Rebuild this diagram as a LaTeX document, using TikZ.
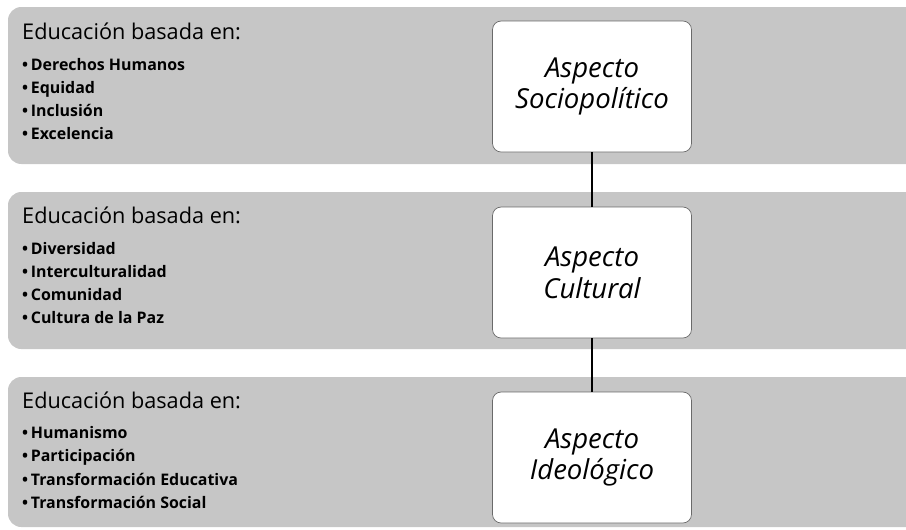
\documentclass[tikz,border=0pt]{standalone}
\usepackage{fontspec}
\setmainfont{Open Sans}
\usetikzlibrary{positioning}

\definecolor{bandgray}{HTML}{C6C6C6}
\definecolor{boxline}{HTML}{6A6A6A}

\begin{document}
\begin{tikzpicture}[x=0.3mm,y=-0.3mm,
  band/.style={fill=bandgray, rounded corners=4mm},
  aspecto/.style={draw=boxline, fill=white, line width=0.6pt, rounded corners=2.6mm,
    minimum width=59.7mm, minimum height=39.3mm, align=center,
    font=\fontsize{23.5}{27}\selectfont\itshape},
  head/.style={anchor=base west, inner sep=0pt, font=\fontsize{18.5}{20}\selectfont},
  punto/.style={anchor=base west, inner sep=0pt, font=\fontsize{13.6}{14}\selectfont\bfseries}]
  \clip (0,0) rectangle (906,529);

  % franjas grises
  \fill[band] (8,7) rectangle (940,164);
  \fill[band] (8,192) rectangle (940,349);
  \fill[band] (8,377) rectangle (940,527);

  % textos de la izquierda
  \node[head] (h1) at (22,39) {Educación basada en:};
  \foreach \t [count=\i] in {Derechos Humanos, Equidad, Inclusión, Excelencia}
    \node[punto] (a\i) at (22,{70+23*(\i-1)}) {•\,\t};

  \node[head] (h2) at (22,223) {Educación basada en:};
  \foreach \t [count=\i] in {Diversidad, Interculturalidad, Comunidad, Cultura de la Paz}
    \node[punto] (b\i) at (22,{254+23*(\i-1)}) {•\,\t};

  \node[head] (h3) at (22,408) {Educación basada en:};
  \foreach \t [count=\i] in {Humanismo, Participación, Transformación Educativa, Transformación Social}
    \node[punto] (c\i) at (22,{438+23.5*(\i-1)}) {•\,\t};

  % cajas de aspectos
  \node[aspecto] (socio) at (592,86.5) {Aspecto\\Sociopolítico};
  \node[aspecto] (cult) at (592,272.5) {Aspecto\\Cultural};
  \node[aspecto] (ideo) at (592,457.5) {Aspecto\\Ideológico};

  \draw[line width=1.3pt] (socio) -- (cult);
  \draw[line width=1.3pt] (cult) -- (ideo);
\end{tikzpicture}
\end{document}
